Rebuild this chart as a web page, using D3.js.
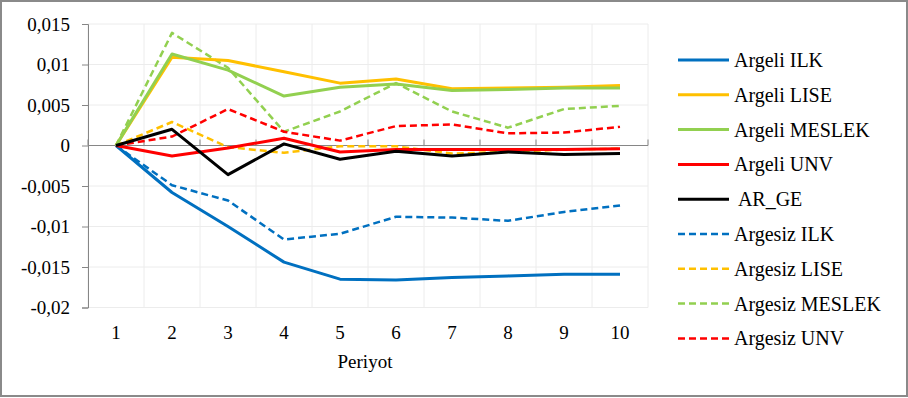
<!DOCTYPE html>
<html>
<head>
<meta charset="utf-8">
<script src="https://cdn.jsdelivr.net/npm/d3@7"></script>
<style>
  html, body { margin: 0; padding: 0; background: #fff; }
  svg { display: block; }
  svg text, svg .lbl { font-family: "Liberation Serif" !important; }
</style>
</head>
<body>
<svg id="chart" width="908" height="398" style="font-family: 'Liberation Serif'"></svg>
<script>
// Periods on the horizontal axis
const periods = ["1", "2", "3", "4", "5", "6", "7", "8", "9", "10"];

// Responses per series, one value per period
const argeliILK    = [0, -0.0058, -0.0100, -0.0144, -0.0165, -0.0166, -0.0163, -0.0161, -0.0159, -0.0159];
const argeliLISE   = [0, 0.0109, 0.0105, 0.0091, 0.0077, 0.0082, 0.0070, 0.0071, 0.0072, 0.0074];
const argeliMESLEK = [0, 0.0113, 0.0093, 0.0061, 0.0072, 0.0076, 0.0068, 0.0069, 0.0071, 0.0071];
const argeliUNV    = [0, -0.0013, -0.0003, 0.0009, -0.0008, -0.0005, -0.0005, -0.0005, -0.0005, -0.0004];
const arGE         = [0, 0.0020, -0.0036, 0.0002, -0.0017, -0.0007, -0.0013, -0.0008, -0.0011, -0.0010];
const argesizILK   = [0, -0.0049, -0.0068, -0.0116, -0.0109, -0.0088, -0.0089, -0.0093, -0.0082, -0.0074];
const argesizLISE  = [0, 0.0029, -0.0002, -0.0009, -0.0001, -0.0001, -0.0010, -0.0008, -0.0005, -0.0004];
const argesizMESLEK= [0, 0.0139, 0.0096, 0.0017, 0.0042, 0.0077, 0.0042, 0.0022, 0.0045, 0.0049];
const argesizUNV   = [0, 0.0011, 0.0045, 0.0017, 0.0006, 0.0024, 0.0026, 0.0015, 0.0016, 0.0023];

// Vertical tick values and their labels
const yTicks = [0.015, 0.01, 0.005, 0, -0.005, -0.01, -0.015, -0.02];
const yTickLabels = ["0,015", "0,01", "0,005", "0", "-0,005", "-0,01", "-0,015", "-0,02"];

const seriesNames = ["Argeli ILK", "Argeli LISE", "Argeli MESLEK", "Argeli UNV", " AR_GE",
  "Argesiz ILK", "Argesiz LISE", "Argesiz MESLEK", "Argesiz UNV"];
const seriesValues = [argeliILK, argeliLISE, argeliMESLEK, argeliUNV, arGE,
  argesizILK, argesizLISE, argesizMESLEK, argesizUNV];
const seriesColors = ["#0070C0", "#FFC000", "#92D050", "#FF0000", "#000000",
  "#0070C0", "#FFC000", "#92D050", "#FF0000"];
const seriesDashed = [false, false, false, false, false, true, true, true, true];

const series = seriesNames.map((name, i) => ({
  name, values: seriesValues[i], color: seriesColors[i], dashed: seriesDashed[i]
}));

const FS = "19px";

// Serif face for every label
function serif(sel, size) {
  sel.classed("lbl", true)
    .attr("font-family", "Liberation Serif")
    .style("font-family", '"Liberation Serif"')
    .attr("font-size", size)
    .attr("fill", "#000");
  sel.each(function () { this.getComputedTextLength(); });
  return sel;
}

const svg = d3.select("#chart");

// Outer frame
svg.append("rect")
  .attr("x", 1).attr("y", 1).attr("width", 906).attr("height", 395)
  .attr("fill", "#fff").attr("stroke", "#8a8a8a").attr("stroke-width", 2);

const plot = { left: 88, right: 648, top: 24, bottom: 307.5 };

const x = d3.scaleBand().domain(periods).range([plot.left, plot.right]).padding(0);
const y = d3.scaleLinear().domain([-0.02, 0.015]).range([plot.bottom, plot.top]);
const cx = p => x(p) + x.bandwidth() / 2;

// Gridlines
const grid = svg.append("g");
grid.selectAll("line.h").data(yTicks).join("line")
  .attr("x1", plot.left).attr("x2", plot.right)
  .attr("y1", d => y(d)).attr("y2", d => y(d))
  .attr("stroke", "#ececec").attr("stroke-width", 1);
const bounds = periods.map(p => x(p) + x.bandwidth()).concat([plot.left]);
grid.selectAll("line.v").data(bounds).join("line")
  .attr("x1", d => d).attr("x2", d => d)
  .attr("y1", plot.top).attr("y2", plot.bottom)
  .attr("stroke", "#ececec").attr("stroke-width", 1);

// Y axis
const yAxis = d3.axisLeft(y).tickValues(yTicks)
  .tickFormat((d, i) => yTickLabels[i]).tickSize(6).tickPadding(12);
const gy = svg.append("g").attr("transform", `translate(${plot.left},0)`).call(yAxis);
gy.attr("font-family", "Liberation Serif").attr("font-size", FS);
gy.select(".domain").attr("stroke", "#868686").attr("stroke-width", 1);
gy.selectAll(".tick line").attr("stroke", "#868686");
serif(gy.selectAll(".tick text"), FS);

// Zero line with category separators
const zeroY = y(0);
svg.append("line")
  .attr("x1", plot.left).attr("x2", plot.right)
  .attr("y1", zeroY).attr("y2", zeroY)
  .attr("stroke", "#868686").attr("stroke-width", 1);
svg.append("g").selectAll("line").data(bounds).join("line")
  .attr("x1", d => d).attr("x2", d => d)
  .attr("y1", zeroY - 6).attr("y2", zeroY)
  .attr("stroke", "#868686").attr("stroke-width", 1);

// Category labels below the plot
const xAxis = d3.axisBottom(x).tickSize(0).tickPadding(18);
const gx = svg.append("g").attr("transform", `translate(0,${plot.bottom})`).call(xAxis);
gx.attr("font-family", "Liberation Serif").attr("font-size", FS);
gx.select(".domain").remove();
serif(gx.selectAll(".tick text"), FS);

serif(svg.append("text")
  .attr("x", (plot.left + plot.right) / 2 - 3).attr("y", 368)
  .attr("text-anchor", "middle")
  .text("Periyot"), FS);

// Series lines
const line = d3.line().x((d, i) => cx(periods[i])).y(d => y(d));
const order = [5, 6, 7, 8, 0, 1, 2, 3, 4];
svg.append("g").selectAll("path").data(order.map(i => series[i])).join("path")
  .attr("d", d => line(d.values))
  .attr("fill", "none")
  .attr("stroke", d => d.color)
  .attr("stroke-width", d => d.dashed ? 2.5 : 3)
  .attr("stroke-dasharray", d => d.dashed ? "7,4" : null)
  .attr("stroke-linejoin", "round");

// Legend
const legend = svg.append("g");
const rowY = i => 60 + i * 34.8;
legend.selectAll("line").data(series).join("line")
  .attr("x1", 678).attr("x2", 729)
  .attr("y1", (d, i) => rowY(i)).attr("y2", (d, i) => rowY(i))
  .attr("stroke", d => d.color)
  .attr("stroke-width", d => d.dashed ? 2.5 : 3)
  .attr("stroke-dasharray", d => d.dashed ? "7,4" : null);
serif(legend.selectAll("text").data(series).join("text")
  .attr("x", 734).attr("y", (d, i) => rowY(i) + 7)
  .attr("xml:space", "preserve")
  .style("white-space", "pre")
  .text(d => d.name), "20px");
</script>
</body>
</html>
